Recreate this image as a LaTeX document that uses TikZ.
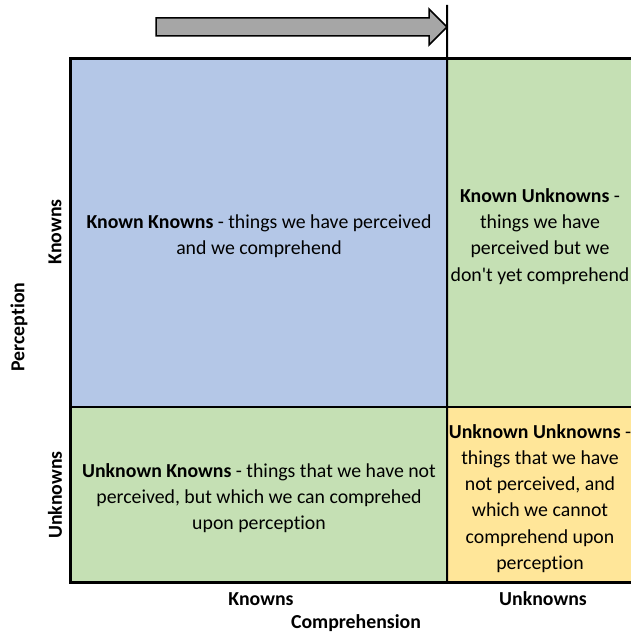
\documentclass[tikz,border=0pt]{standalone}
\usepackage{fontspec}
\setmainfont{Carlito}[Ligatures=NoCommon]
\usetikzlibrary{positioning}
\tikzset{
    cell/.style = {rectangle, inner sep=0pt},
    cellb/.style = {cell, fill={rgb,255:red,180;green,199;blue,231}},
    cellg/.style = {cell, fill={rgb,255:red,197;green,224;blue,180}},
    celly/.style = {cell, fill={rgb,255:red,255;green,230;blue,153}},
    celltext/.style = {inner sep=0pt, align=center, font=\fontsize{19.8}{26.2}\selectfont},
    axislabel/.style = {font=\fontsize{19.8}{22}\selectfont\bfseries},
    divider/.style = {line width=2pt, draw=black},
    outer/.style = {line width=3pt, draw=black},
    arrowbox/.style = {draw=black, line width=1.5pt, fill={rgb,255:red,166;green,166;blue,166}, line join=miter}
}
\begin{document}
\begin{tikzpicture}[x=1pt,y=-1pt]
  \useasboundingbox (0,0) rectangle (630,636);

  % quadrants
  \node[cellb, minimum width=376pt, minimum height=348pt] at (259,233) (kk) {};
  \node[cellg, minimum width=186pt, minimum height=348pt] at (540,233) (ku) {};
  \node[cellg, minimum width=376pt, minimum height=175pt] at (259,494.5) (uk) {};
  \node[celly, minimum width=186pt, minimum height=175pt] at (540,494.5) (uu) {};

  % quadrant texts
  \node[celltext] at ([yshift=-3.5pt]kk.center) (kktext)
    {\textbf{Known Knowns} - things we have perceived\\and we comprehend};
  \node[celltext] at ([yshift=-3.5pt]ku.center) (kutext)
    {\textbf{Known Unknowns} -\\things we have\\perceived but we\\don\textquotesingle t yet comprehend};
  \node[celltext] at ([yshift=-3.5pt]uk.center) (uktext)
    {\textbf{Unknown Knowns} - things that we have not\\perceived, but which we can comprehed\\upon perception};
  \node[celltext] at ([yshift=-4pt]uu.center) (uutext)
    {\textbf{Unknown Unknowns} -\\things that we have\\not perceived, and\\which we cannot\\comprehend upon\\perception};

  % grid lines
  \coordinate (top) at (447,5);
  \coordinate (farcorner) at (645,582);
  \draw[divider] (top) -- (uk.south east);
  \draw[divider] (kk.south west) -- (ku.south east);
  \draw[outer] (kk.north west) rectangle (farcorner);

  % arrow
  \draw[arrowbox] (156,18) -- (429,18) -- (429,9) -- (447,27) -- (429,45) -- (429,36) -- (156,36) -- cycle;

  % axis labels
  \node[axislabel, rotate=90] at (55,232) (pk) {Knowns};
  \node[axislabel, rotate=90] at (55,495) (pu) {Unknowns};
  \node[axislabel, rotate=90] at (19,327) (perc) {Perception};
  \node[axislabel] at (261,599) (ck) {Knowns};
  \node[axislabel] at (543,599) (cu) {Unknowns};
  \node[axislabel] at (356,623) (comp) {Comprehension};
\end{tikzpicture}
\end{document}
